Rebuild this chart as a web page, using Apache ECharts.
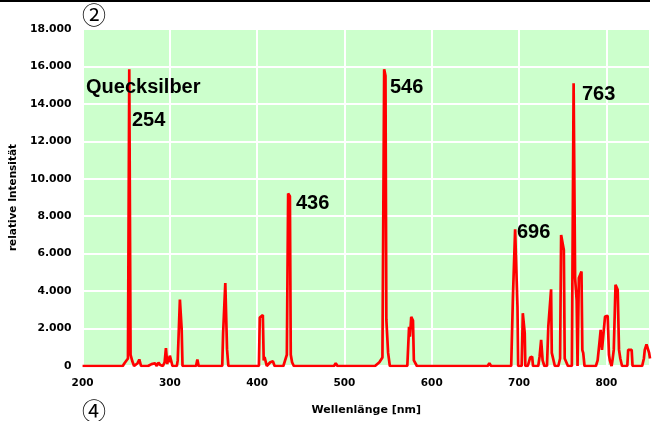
<!DOCTYPE html>
<html>
<head>
<meta charset="utf-8">
<script src="https://cdn.jsdelivr.net/npm/echarts@6/dist/echarts.min.js"></script>
<style>
html,body{margin:0;padding:0;background:#fff;}
#chart{width:653px;height:421px;}
</style>
</head>
<body>
<div id="chart"></div>
<script>
// Spectrum (Hg lamp): wavelength in nm, relative intensity
const wavelengths = [
  200,246,248,250,252,253.5,255,257,259,261,263,265,267,275,279,281,283,285,287,289,292,294,295.5,297,298,299,300,302,303,
  308,309,311.5,313.5,314.5,330,331.5,333,360,361,363.5,365.5,367,
  402,403,404.2,406.5,407.5,408.5,410,411,413,415,416,418,420,
  430,432,434,435.5,437.5,438.5,440,442,488,490,492,
  535,540,543.5,545.5,547,548,550,552,572,574,575,576.5,578.5,579.5,581,583,664,666,668,
  691,693,695.5,698.2,699,703,704.3,706.5,707.2,710,712.7,715,716,722,723.5,725.3,727,729,
  732,733.5,736.7,737.5,739.4,741,745,747,748.2,751.3,752.3,754,756,760.5,762.5,763.5,764.2,766,767,
  768,768.5,771.5,772.5,773.5,775,788,790,792,793.5,795,797,798.5,801.5,803,804,806,807,808.5,810.5,813,814.5,816,818,
  824,825,829,830,841,843,844,846,848,849,850
];
const intensities = [
  0,0,150,250,400,15850,600,250,0,0,150,350,0,0,100,200,150,0,180,50,0,200,950,100,500,200,550,550,0,
  0,300,3550,2000,0,0,350,0,0,1750,4430,900,0,
  0,2590,2590,2720,300,480,400,0,100,200,100,250,0,
  0,300,600,9210,9070,600,200,0,0,150,0,
  0,200,450,15850,15500,2460,700,0,0,2090,1570,2620,2430,300,200,0,0,150,0,
  0,3710,7300,3180,0,0,2820,1750,0,0,450,500,0,0,500,1400,300,0,
  0,2100,4100,700,700,0,0,400,7000,6200,400,400,0,0,15100,15000,4700,3500,0,
  0,4700,5050,850,700,0,0,300,1210,1930,860,800,2640,2680,600,300,0,300,860,4340,4070,860,400,0,
  0,860,860,0,0,400,860,1150,1150,700,400
];
const peakLabels = ["254","436","546","696","763"];
const title = "Quecksilber";
const xName = "Wellenlänge [nm]";
const yName = "relative Intensität";

const data = wavelengths.map((w, i) => [w, intensities[i]]);
const chart = echarts.init(document.getElementById('chart'), null, {renderer: 'canvas'});
const FONT = 'Liberation Sans, Arial, sans-serif';
const AXFONT = 'DejaVu Sans, Verdana, sans-serif';

const annot = (txt, x, y, size) => ({
  type: 'text', left: x, top: y, z: 100,
  style: {text: txt, fill: '#000', font: 'bold ' + size + 'px ' + FONT}
});

chart.setOption({
  animation: false,
  backgroundColor: '#ffffff',
  grid: {left: 82, right: 3, top: 29, bottom: 54, show: true, backgroundColor: '#ccffcc', borderWidth: 0},
  xAxis: {
    type: 'value', min: 200, max: 850, interval: 100,
    name: xName, nameLocation: 'middle', nameGap: 39,
    nameTextStyle: {fontFamily: AXFONT, fontWeight: 'bold', fontSize: 11, color: '#000'},
    axisLine: {show: false}, axisTick: {show: false},
    axisLabel: {showMaxLabel: false, margin: 12, fontFamily: AXFONT, fontWeight: 'bold', fontSize: 10.5, color: '#000'},
    splitLine: {show: true, lineStyle: {color: '#ffffff', width: 2}}
  },
  yAxis: {
    type: 'value', min: 0, max: 18000, interval: 2000,
    name: yName, nameLocation: 'middle', nameRotate: 90, nameGap: 61,
    nameTextStyle: {fontFamily: AXFONT, fontWeight: 'bold', fontSize: 10.5, color: '#000'},
    axisLine: {show: false}, axisTick: {show: false},
    axisLabel: {margin: 11, fontFamily: AXFONT, fontWeight: 'bold', fontSize: 10.8, color: '#000',
      formatter: v => v === 0 ? '0' : (v / 1000).toFixed(3)},
    splitLine: {show: true, lineStyle: {color: '#ffffff', width: 2}}
  },
  series: [{
    type: 'line', data: data, showSymbol: false, smooth: false,
    lineStyle: {color: '#ff0000', width: 2.7}, z: 5
  }],
  graphic: [
    {type: 'rect', left: 0, top: 0, shape: {width: 650, height: 2}, style: {fill: '#000'}},
    {type: 'text', x: 94, y: 15, z: 100, style: {text: '②', fill: '#000', textAlign: 'center', textVerticalAlign: 'middle', font: '24px "Noto Sans CJK JP", "DejaVu Sans", sans-serif'}},
    {type: 'text', x: 94, y: 411, z: 100, style: {text: '④', fill: '#000', textAlign: 'center', textVerticalAlign: 'middle', font: '24px "Noto Sans CJK JP", "DejaVu Sans", sans-serif'}},
    annot(title, 86, 77, 20),
    annot(peakLabels[0], 132, 110, 20),
    annot(peakLabels[1], 296, 193, 20),
    annot(peakLabels[2], 390, 77, 20),
    annot(peakLabels[3], 517, 222, 20),
    annot(peakLabels[4], 582, 84, 20)
  ]
});
</script>
</body>
</html>
